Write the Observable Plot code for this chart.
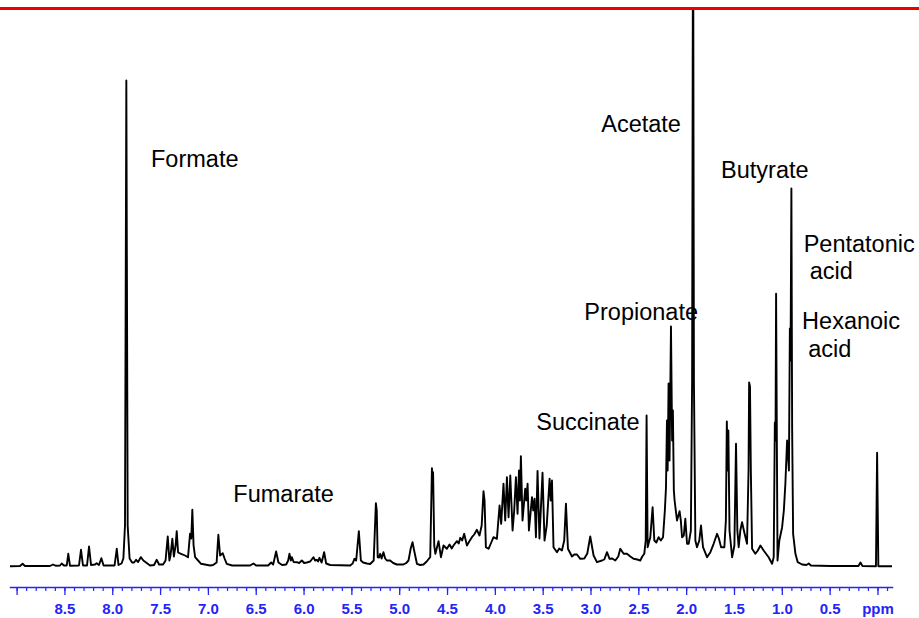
<!DOCTYPE html>
<html>
<head>
<meta charset="utf-8">
<script src="https://cdn.jsdelivr.net/npm/d3@7"></script>
<script src="https://cdn.jsdelivr.net/npm/@observablehq/plot@0.6"></script>
<style>
  html, body { margin: 0; padding: 0; background: #fff; }
  #wrap { position: relative; width: 919px; height: 618px; }
  #topline { position: absolute; left: 0; top: 7px; width: 919px; height: 3px; background: #ee0000; }
</style>
</head>
<body>
<div id="wrap"><div id="topline"></div></div>
<script>
// 1H NMR spectrum: chemical shift (ppm) and intensity (arbitrary units)
const shift = [
  9.074, 8.970, 8.942, 8.918, 8.656, 8.625, 8.593, 8.551, 8.534, 8.510, 8.481, 8.465, 8.447, 8.353, 8.332, 8.311,
  8.269, 8.248, 8.227, 8.185, 8.168, 8.144, 8.119, 8.096, 7.981, 7.958, 7.940, 7.908, 7.889, 7.872, 7.858, 7.844,
  7.824, 7.798, 7.777, 7.756, 7.735, 7.707, 7.680, 7.652, 7.610, 7.568, 7.540, 7.516, 7.474, 7.448, 7.425, 7.408,
  7.396, 7.377, 7.361, 7.343, 7.331, 7.317, 7.286, 7.244, 7.213, 7.192, 7.179, 7.168, 7.155, 7.139, 7.108, 7.077,
  6.982, 6.951, 6.914, 6.896, 6.878, 6.850, 6.831, 6.808, 6.752, 6.564, 6.529, 6.501, 6.376, 6.344, 6.323, 6.292,
  6.268, 6.229, 6.187, 6.166, 6.153, 6.138, 6.128, 6.109, 6.075, 6.051, 6.023, 5.999, 5.971, 5.936, 5.902, 5.884,
  5.866, 5.853, 5.839, 5.816, 5.790, 5.769, 5.727, 5.518, 5.492, 5.473, 5.455, 5.427, 5.406, 5.382, 5.343, 5.309,
  5.272, 5.249, 5.240, 5.230, 5.215, 5.204, 5.189, 5.170, 5.152, 5.134, 5.100, 5.068, 5.030, 4.961, 4.932, 4.908,
  4.885, 4.866, 4.849, 4.820, 4.786, 4.751, 4.718, 4.681, 4.663, 4.657, 4.651, 4.639, 4.627, 4.594, 4.569, 4.542,
  4.507, 4.479, 4.456, 4.438, 4.402, 4.383, 4.367, 4.347, 4.326, 4.297, 4.273, 4.245, 4.221, 4.193, 4.166, 4.143,
  4.124, 4.113, 4.099, 4.071, 4.043, 4.019, 3.984, 3.956, 3.939, 3.915, 3.897, 3.879, 3.862, 3.844, 3.820, 3.803,
  3.785, 3.768, 3.753, 3.743, 3.733, 3.716, 3.688, 3.677, 3.663, 3.649, 3.617, 3.604, 3.590, 3.576, 3.559, 3.539,
  3.525, 3.507, 3.486, 3.463, 3.433, 3.421, 3.408, 3.392, 3.356, 3.332, 3.304, 3.280, 3.262, 3.241, 3.199, 3.175,
  3.147, 3.112, 3.070, 3.039, 3.008, 2.973, 2.938, 2.885, 2.861, 2.833, 2.806, 2.778, 2.746, 2.715, 2.694, 2.659,
  2.624, 2.589, 2.555, 2.516, 2.485, 2.464, 2.443, 2.428, 2.419, 2.408, 2.380, 2.356, 2.338, 2.317, 2.293, 2.270,
  2.247, 2.228, 2.216, 2.206, 2.199, 2.189, 2.179, 2.164, 2.152, 2.144, 2.134, 2.126, 2.101, 2.074, 2.061, 2.048,
  2.030, 2.014, 1.996, 1.979, 1.956, 1.943, 1.933, 1.924, 1.909, 1.892, 1.868, 1.850, 1.829, 1.787, 1.752, 1.718,
  1.682, 1.663, 1.640, 1.606, 1.590, 1.580, 1.571, 1.564, 1.552, 1.525, 1.501, 1.484, 1.470, 1.456, 1.439, 1.421,
  1.394, 1.369, 1.353, 1.347, 1.338, 1.329, 1.316, 1.282, 1.256, 1.229, 1.195, 1.143, 1.107, 1.090, 1.078, 1.071,
  1.065, 1.057, 1.050, 1.031, 1.002, 0.984, 0.968, 0.950, 0.940, 0.931, 0.921, 0.914, 0.905, 0.897, 0.887, 0.863,
  0.839, 0.793, 0.748, 0.724, 0.701, 0.497, 0.204, 0.183, 0.162, 0.021, 0.009, -0.004, -0.148
];
const intensity = [
  0.3, 0.5, 2.7, 0.5, 0.5, 2, 0.7, 1, 3, 1, 1, 12.7, 0.7, 1, 16.7, 1,
  1, 20, 1.5, 2, 3.3, 1.5, 8.3, 1, 1, 17.7, 1.5, 3, 8, 41, 486, 41,
  8, 4, 4, 6.7, 4.5, 9.3, 6, 4, 1, 1.5, 6.7, 2, 2, 6, 30, 6,
  11, 27.7, 10, 21, 35.3, 14, 12.7, 11, 9.3, 32.7, 28, 56.7, 21, 9.3, 6, 2.7,
  1, 1.5, 4, 31.7, 11, 13.3, 8, 2.7, 1, 1, 3, 1, 1, 4, 2, 15,
  4, 1.5, 2, 6, 12.7, 6, 9.3, 4.5, 4.3, 3.5, 6, 3.5, 4, 5, 9.3, 6,
  6.7, 5, 8.7, 4, 14.3, 3, 1.5, 1, 3, 7.7, 6, 35.3, 6, 4, 3, 2.5,
  6, 63.3, 56, 9.3, 9, 12.7, 8, 14.3, 8, 6, 6, 3.5, 2, 2, 3.5, 6,
  18, 24.3, 16, 2.7, 1.5, 2, 5, 9.3, 98.3, 86, 94.3, 21, 12.7, 25.3, 9.3, 21,
  17.7, 22, 18, 21, 25.3, 23, 28.7, 26, 32.7, 21, 25, 29.3, 32, 36.7, 31, 41,
  75.3, 66, 19.3, 17.7, 24, 29.3, 27.7, 61, 42.7, 82.7, 46, 89.3, 49.3, 91, 36, 56,
  89.3, 52.7, 96, 66, 110.3, 46, 77.7, 66, 82.7, 36, 69.3, 56, 67.7, 29.3, 95.5, 28,
  56, 93.7, 26, 41, 87.7, 66, 86, 19.3, 14.3, 18, 16, 26, 62.7, 17.7, 10, 12,
  12, 7.7, 8, 13, 30, 11, 4.3, 6, 7, 14.3, 7.7, 8, 6, 10, 17.7, 12.7,
  12.7, 10, 7.7, 7, 6, 10, 12.7, 26, 151, 19.3, 29.3, 59.3, 26, 24, 29.3, 26,
  29.3, 56, 79.3, 146, 96, 183, 106, 240, 126, 156, 76, 66, 46, 55.3, 46, 29.3,
  31, 47.7, 22.7, 22.7, 36, 186, 700, 186, 26, 19.3, 26, 41, 19.3, 9.3, 14.3, 22.7,
  32.7, 28, 19.3, 19.3, 46, 145, 96, 136, 36, 9.3, 21, 122.7, 36, 19.3, 36, 44.3,
  32.7, 22.7, 96, 184, 180, 96, 17.7, 12.7, 16, 21, 16, 9.3, 2.7, 9.3, 144, 126,
  272.7, 126, 6, 26, 39.3, 56, 82.7, 126, 111, 96, 238, 206, 378, 136, 32.7, 12.7,
  4.3, 2, 1.5, 3, 1, 0.5, 0.5, 4, 0.5, 0.3, 113.7, 0.3, 0.3
];

// Metabolite annotations (left edge at shift, baseline at intensity)
const labelText = ["Formate", "Fumarate", "Succinate", "Propionate", "Acetate", "Butyrate", "Pentatonic", "acid", "Hexanoic", "acid"];
const labelShift = [7.600, 6.739, 3.572, 3.070, 2.893, 1.640, 0.777, 0.714, 0.793, 0.730];
const labelIntensity = [400, 65, 137, 246.7, 435, 388.7, 315, 287.7, 237.7, 209.3];

// Chemical-shift axis
const majorTicks = [9.0, 8.5, 8.0, 7.5, 7.0, 6.5, 6.0, 5.5, 5.0, 4.5, 4.0, 3.5, 3.0, 2.5, 2.0, 1.5, 1.0, 0.5, 0.0];
const majorTickLabels = ["", "8.5", "8.0", "7.5", "7.0", "6.5", "6.0", "5.5", "5.0", "4.5", "4.0", "3.5", "3.0", "2.5", "2.0", "1.5", "1.0", "0.5", "ppm"];
const minorTicks = d3.range(-1, 91).map(i => i / 10);

const spectrum = shift.map((s, i) => ({ppm: s, intensity: intensity[i]}));
const labels = labelText.map((t, i) => ({text: t, ppm: labelShift[i], intensity: labelIntensity[i]}));
const tickLabel = new Map(majorTicks.map((t, i) => [t, majorTickLabels[i]]));

const blue = "#2424f4";

const chart = Plot.plot({
  width: 919,
  height: 618,
  marginLeft: 10,
  marginRight: 27,
  marginTop: 10,
  marginBottom: 31,
  style: {background: "white", fontFamily: "'Liberation Sans', Arial, sans-serif"},
  x: {domain: [9.069, -0.152], label: null},
  y: {domain: [0, 556], range: [566, 10], axis: null, label: null},
  marks: [
    Plot.frame({anchor: "bottom", stroke: blue, strokeWidth: 1.5}),
    Plot.axisX(minorTicks, {anchor: "bottom", tickSize: 4, stroke: blue, strokeWidth: 1.2, tickFormat: () => "", label: null}),
    Plot.axisX(majorTicks, {
      anchor: "bottom", tickSize: 8, tickPadding: 8, stroke: blue, strokeWidth: 1.3, fill: blue,
      fontSize: 15, fontWeight: "bold", tickFormat: d => tickLabel.get(d), label: null
    }),
    Plot.line(spectrum, {x: "ppm", y: "intensity", stroke: "black", strokeWidth: 1.9, clip: true}),
    Plot.text(labels, {
      x: "ppm", y: "intensity", text: "text", textAnchor: "start", lineAnchor: "bottom",
      fontSize: 23.5, fill: "black"
    })
  ]
});

document.getElementById("wrap").appendChild(chart);
</script>
</body>
</html>
